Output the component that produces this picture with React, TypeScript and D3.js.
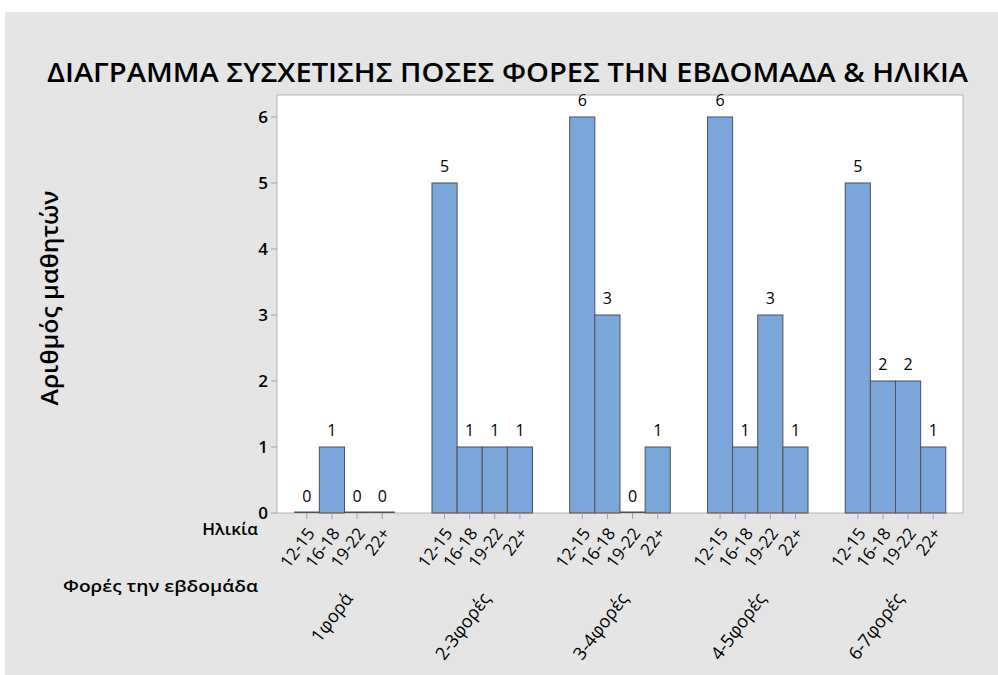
import React from "react";
import * as d3 from "d3";

const groups = ["1φορά", "2-3φορές", "3-4φορές", "4-5φορές", "6-7φορές"];
const ages = ["12-15", "16-18", "19-22", "22+"];
const age12_15 = [0, 5, 6, 6, 5];
const age16_18 = [1, 1, 3, 1, 2];
const age19_22 = [0, 1, 0, 3, 2];
const age22p = [0, 1, 1, 1, 1];
const yTicks = [0, 1, 2, 3, 4, 5, 6];

const title = "ΔΙΑΓΡΑΜΜΑ ΣΥΣΧΕΤΙΣΗΣ ΠΟΣΕΣ ΦΟΡΕΣ ΤΗΝ ΕΒΔΟΜΑΔΑ & ΗΛΙΚΙΑ";
const yTitle = "Αριθμός μαθητών";
const ageTitle = "Ηλικία";
const groupTitle = "Φορές την εβδομάδα";

const series = [age12_15, age16_18, age19_22, age22p];

export default function App() {
  const W = 998;
  const H = 675;
  const left = 277, right = 963, top = 95, bottom = 513;
  const font = "'Open Sans', 'Noto Sans', sans-serif";

  const gx = d3.scaleBand<string>().domain(groups).range([left, right]).paddingInner(0.27).paddingOuter(0.125);
  const ax = d3.scaleBand<string>().domain(ages).range([0, gx.bandwidth()]);
  const y = d3.scaleLinear().domain([0, 6.333]).range([bottom, top]);

  const bars: { g: string; a: string; v: number; x: number; w: number }[] = [];
  groups.forEach((g, gi) => {
    ages.forEach((a, ai) => {
      bars.push({ g, a, v: series[ai][gi], x: (gx(g) as number) + (ax(a) as number), w: ax.bandwidth() });
    });
  });

  return (
    <svg width={W} height={H} style={{ position: "absolute", left: 0, top: 0 }} fontFamily={font}>
      <rect x={0} y={0} width={W} height={H} fill="#ffffff" />
      <rect x={5} y={12} width={W - 5} height={H - 12} fill="#e5e5e5" />
      <text x={47} y={82} fontSize={27} fontWeight={600} textLength={921} lengthAdjust="spacingAndGlyphs" fill="#000">
        {title}
      </text>
      <rect x={left} y={top} width={right - left} height={bottom - top} fill="#ffffff" stroke="#b5b5b5" strokeWidth={1} />
      {yTicks.map((t) => (
        <g key={t}>
          <line x1={left - 6} x2={left} y1={y(t)} y2={y(t)} stroke="#a0a0a0" />
          <text x={left - 9} y={y(t)} dy="0.35em" textAnchor="end" fontSize={17} fontWeight={600} fill="#000">
            {t}
          </text>
        </g>
      ))}
      {bars.map((b, i) =>
        b.v > 0 ? (
          <rect key={i} x={b.x} y={y(b.v)} width={b.w} height={y(0) - y(b.v)} fill="#7BA6DA" stroke="#505050" strokeWidth={1} />
        ) : (
          <rect key={i} x={b.x} y={y(0) - 1.5} width={b.w} height={1.5} fill="#505050" />
        )
      )}
      {bars.map((b, i) => (
        <text key={"l" + i} x={b.x + b.w / 2} y={y(b.v) - 11} textAnchor="middle" fontSize={16} fill="#000">
          {b.v}
        </text>
      ))}
      {bars.map((b, i) => (
        <g key={"t" + i}>
          <line x1={b.x + b.w / 2} x2={b.x + b.w / 2} y1={bottom} y2={bottom + 6} stroke="#a0a0a0" />
          <text
            transform={`translate(${b.x + b.w / 2 + 4},${bottom + 17}) rotate(-53)`}
            textAnchor="end"
            dy="0.35em"
            fontSize={17}
            fill="#000"
          >
            {b.a}
          </text>
        </g>
      ))}
      {groups.map((g) => (
        <text
          key={g}
          transform={`translate(${(gx(g) as number) + gx.bandwidth() / 2 + 4},${595}) rotate(-53)`}
          textAnchor="end"
          dy="0.35em"
          fontSize={18}
          fill="#000"
        >
          {g}
        </text>
      ))}
      <text x={258} y={535} textAnchor="end" fontSize={17} fontWeight={600} fill="#000">
        {ageTitle}
      </text>
      <text x={258} y={592} textAnchor="end" fontSize={17} fontWeight={600} textLength={195} lengthAdjust="spacingAndGlyphs" fill="#000">
        {groupTitle}
      </text>
      <text transform={`translate(58,${298}) rotate(-90)`} textAnchor="middle" fontSize={23} fontWeight={600} textLength={215} lengthAdjust="spacingAndGlyphs" fill="#000">
        {yTitle}
      </text>
    </svg>
  );
}
